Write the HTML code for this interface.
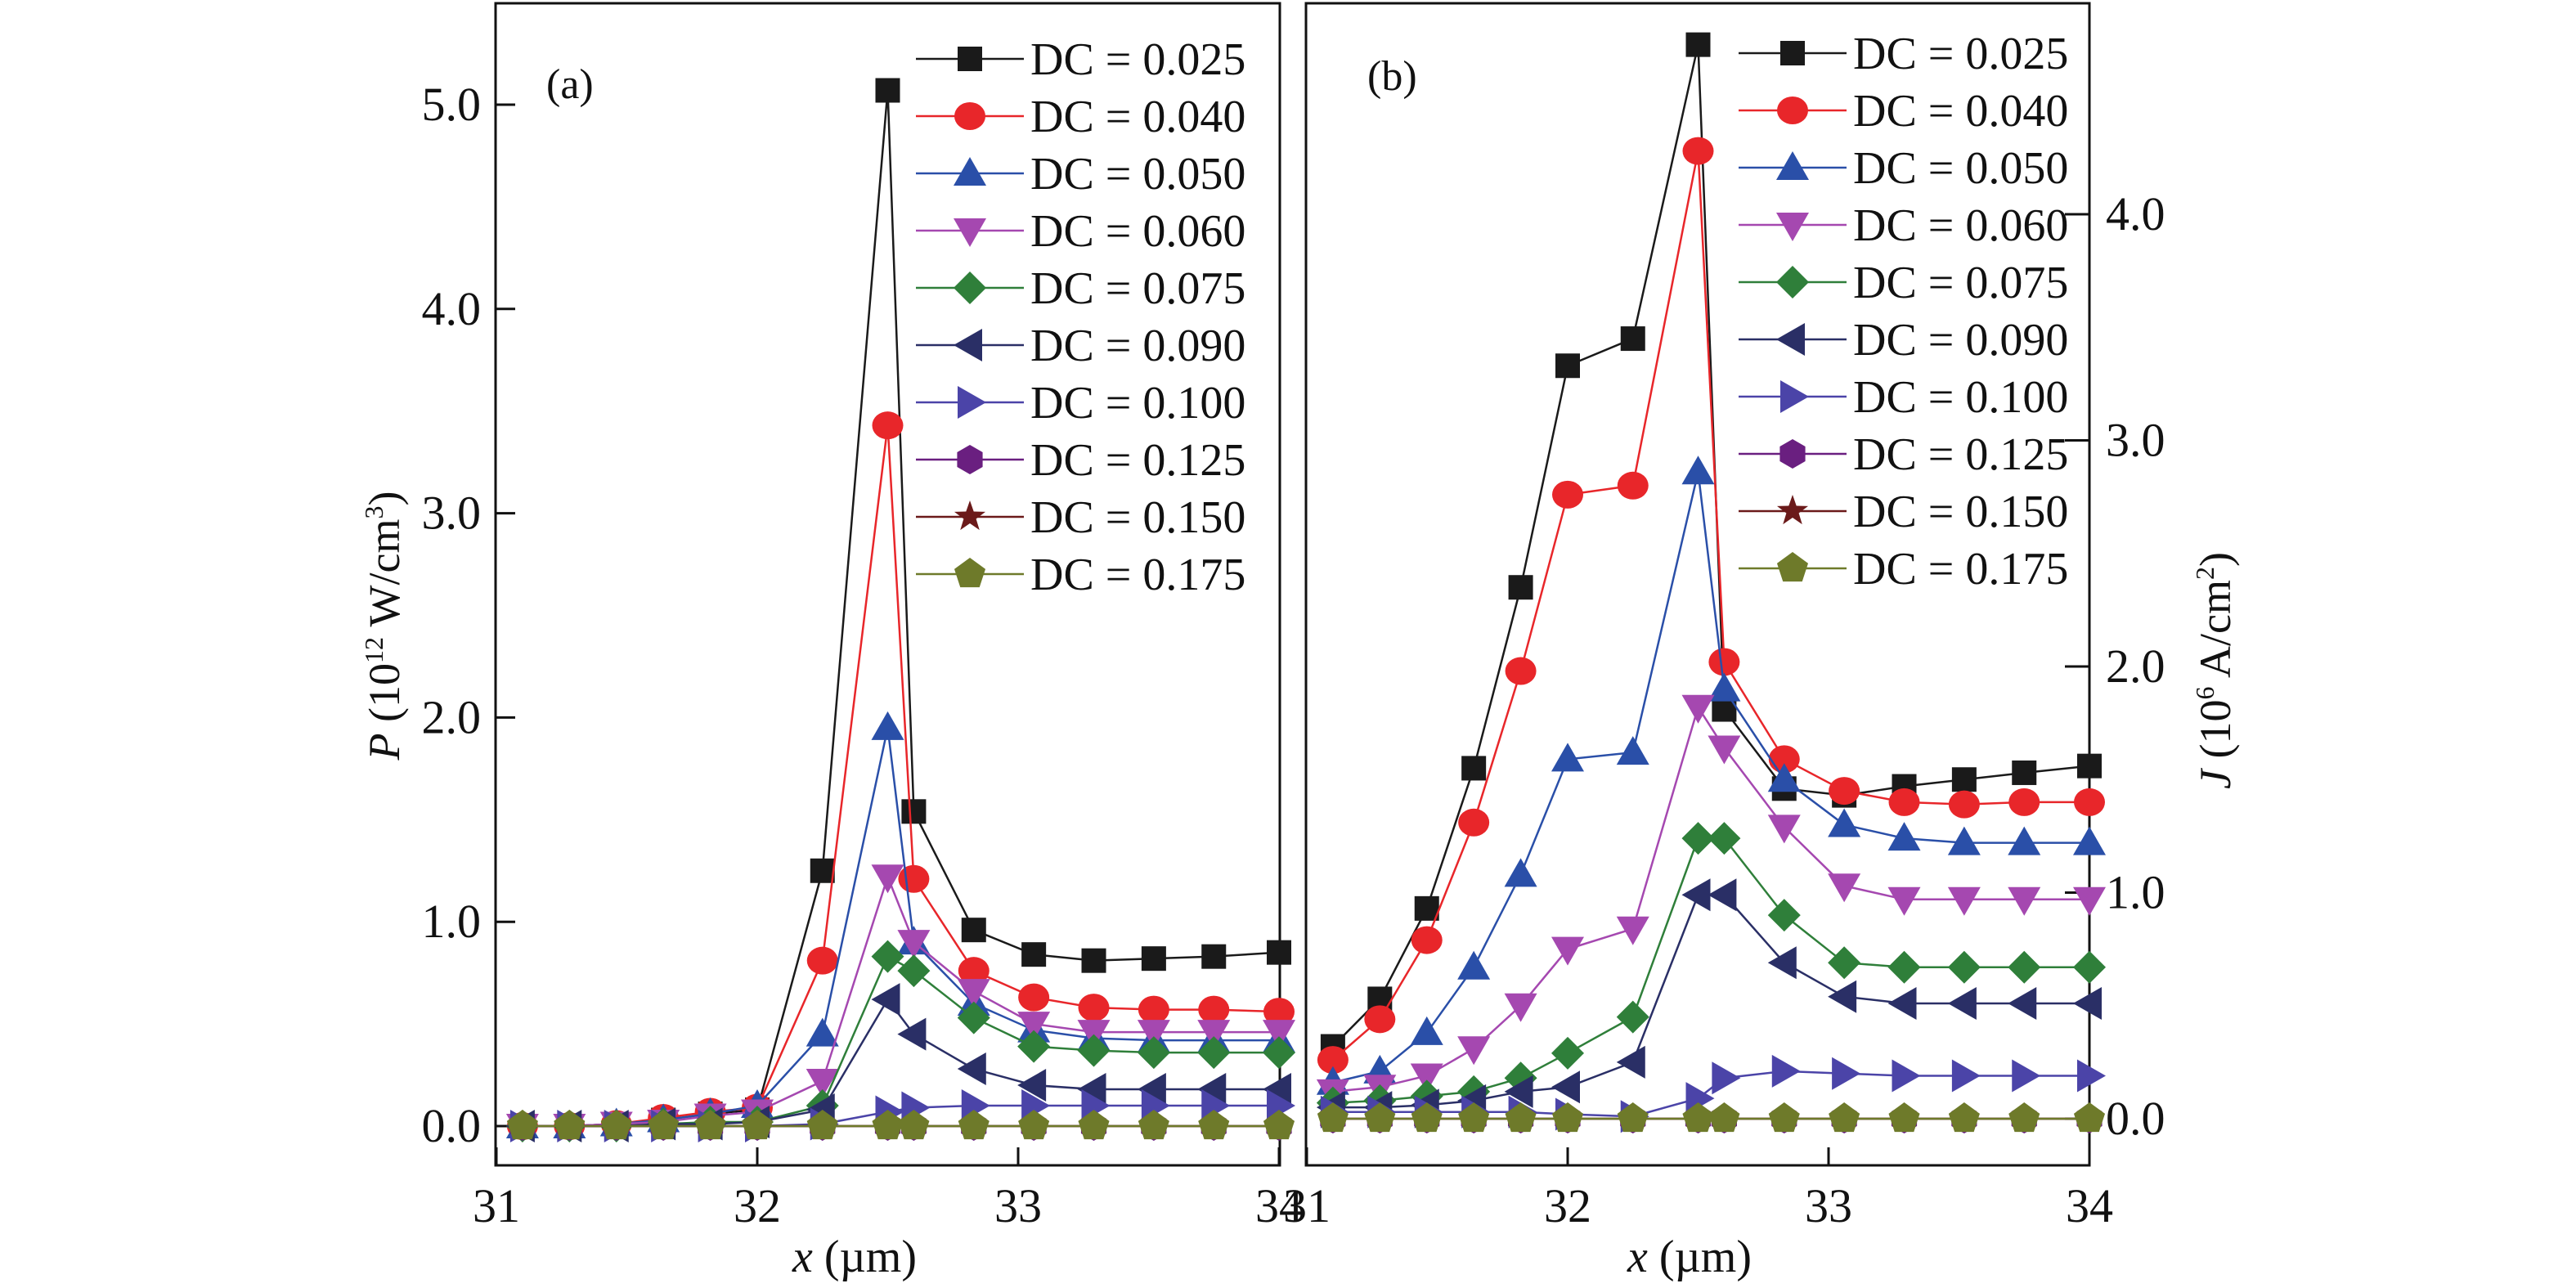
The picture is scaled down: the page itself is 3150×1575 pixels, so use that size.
<!DOCTYPE html>
<html><head><meta charset="utf-8"><style>
html,body{margin:0;padding:0;background:#fff;}
svg{display:block;font-family:"Liberation Serif",serif;}
</style></head><body>
<svg id="chart" width="3150" height="1575" viewBox="0 0 3150 1575"></svg>
<script>
const xs = [31.1,31.28,31.46,31.64,31.82,32.0,32.25,32.5,32.6,32.83,33.06,33.29,33.52,33.75,34.0];
const dcLabels = ["0.025","0.040","0.050","0.060","0.075","0.090","0.100","0.125","0.150","0.175"];
const aValues = [
 [0,0,0.01,0.03,0.06,0.08,1.25,5.07,1.54,0.96,0.84,0.81,0.82,0.83,0.85],
 [0,0,0.01,0.04,0.07,0.09,0.81,3.43,1.21,0.76,0.63,0.58,0.57,0.57,0.56],
 [0,0,0.01,0.03,0.06,0.10,0.45,1.95,0.90,0.60,0.47,0.43,0.42,0.42,0.42],
 [0,0,0.01,0.02,0.05,0.07,0.22,1.22,0.90,0.66,0.50,0.46,0.46,0.46,0.46],
 [0,0,0,0.01,0.02,0.02,0.10,0.83,0.76,0.53,0.39,0.37,0.36,0.36,0.36],
 [0,0,0,0.01,0.01,0.02,0.08,0.62,0.45,0.28,0.20,0.18,0.18,0.18,0.18],
 [0,0,0,0,0,0,0.01,0.07,0.09,0.10,0.10,0.10,0.10,0.10,0.10],
 [0,0,0,0,0,0,0,0,0,0,0,0,0,0,0],
 [0,0,0,0,0,0,0,0,0,0,0,0,0,0,0],
 [0,0,0,0,0,0,0,0,0,0,0,0,0,0,0]
];
const bValues = [
 [0.32,0.53,0.93,1.55,2.35,3.33,3.45,4.75,1.81,1.46,1.43,1.47,1.50,1.53,1.56],
 [0.26,0.44,0.79,1.31,1.98,2.76,2.80,4.28,2.02,1.59,1.45,1.40,1.39,1.40,1.40],
 [0.16,0.21,0.38,0.67,1.08,1.59,1.62,2.86,1.90,1.50,1.30,1.24,1.22,1.22,1.22],
 [0.12,0.14,0.19,0.31,0.50,0.75,0.84,1.82,1.64,1.29,1.03,0.97,0.97,0.97,0.97],
 [0.07,0.08,0.10,0.12,0.18,0.29,0.45,1.24,1.24,0.90,0.69,0.67,0.67,0.67,0.67],
 [0.05,0.05,0.06,0.08,0.12,0.14,0.25,0.99,0.99,0.69,0.54,0.51,0.51,0.51,0.51],
 [0.03,0.03,0.03,0.03,0.03,0.02,0.01,0.09,0.18,0.21,0.20,0.19,0.19,0.19,0.19],
 [0,0,0,0,0,0,0,0,0,0,0,0,0,0,0],
 [0,0,0,0,0,0,0,0,0,0,0,0,0,0,0],
 [0,0,0,0,0,0,0,0,0,0,0,0,0,0,0]
];
const xTicks = [31,32,33,34];
const aYTicks = [0,1,2,3,4,5];
const bYTicks = [0,1,2,3,4];
const colors = ["#1a1a1a","#e8262a","#2a4fa8","#a548b0","#2f7f3a","#2a2f66","#4b44a8","#6a1f80","#6b1a1a","#6e7a2a"];
const shapes = ["square","circle","up","down","diamond","left","right","hex","star","pent"];

const NS="http://www.w3.org/2000/svg";
const svg=document.getElementById('chart');
function mk(tag,attrs,parent,text){const e=document.createElementNS(NS,tag);for(const k in attrs)e.setAttribute(k,attrs[k]);if(text!==undefined)e.textContent=text;(parent||svg).appendChild(e);return e;}
function poly(pts){return pts.map(p=>p.join(',')).join(' ');}
function marker(g,shape,cx,cy,c){
  let e;const r=18;
  if(shape==='square') e=mk('rect',{x:cx-15,y:cy-15,width:30,height:30,fill:c},g);
  else if(shape==='circle') e=mk('ellipse',{cx:cx,cy:cy,rx:19,ry:17,fill:c},g);
  else if(shape==='up') e=mk('polygon',{points:poly([[cx,cy-20],[cx-20,cy+15],[cx+20,cy+15]]),fill:c},g);
  else if(shape==='down') e=mk('polygon',{points:poly([[cx,cy+20],[cx-20,cy-15],[cx+20,cy-15]]),fill:c},g);
  else if(shape==='diamond') e=mk('polygon',{points:poly([[cx,cy-20],[cx+20,cy],[cx,cy+20],[cx-20,cy]]),fill:c},g);
  else if(shape==='left') e=mk('polygon',{points:poly([[cx-20,cy],[cx+15,cy-20],[cx+15,cy+20]]),fill:c},g);
  else if(shape==='right') e=mk('polygon',{points:poly([[cx+20,cy],[cx-15,cy-20],[cx-15,cy+20]]),fill:c},g);
  else if(shape==='hex'){const p=[];for(let i=0;i<6;i++){const a=Math.PI/6+i*Math.PI/3;p.push([cx+r*Math.cos(a),cy+r*Math.sin(a)]);}e=mk('polygon',{points:poly(p),fill:c},g);}
  else if(shape==='star'){const p=[];for(let i=0;i<10;i++){const a=-Math.PI/2+i*Math.PI/5;const rr=i%2?8:20;p.push([cx+rr*Math.cos(a),cy+rr*Math.sin(a)]);}e=mk('polygon',{points:poly(p),fill:c},g);}
  else {const p=[];for(let i=0;i<5;i++){const a=-Math.PI/2+i*2*Math.PI/5;p.push([cx+20*Math.cos(a),cy+20*Math.sin(a)]);}e=mk('polygon',{points:poly(p),fill:c},g);}
  return e;
}
function panel(opt){
  const g=mk('g',{});
  
  
  const X=v=>opt.x0+(v-31)*opt.xs;
  const Y=v=>opt.y0-v*opt.ys;
  const fr=mk('rect',{x:opt.left,y:4,width:opt.right-opt.left,height:1421,fill:'none',stroke:'#111','stroke-width':3},g);
  
  
  xTicks.forEach(t=>{
    mk('line',{x1:X(t),x2:X(t),y1:1425,y2:1403,stroke:'#111','stroke-width':3},g);
    const tl=mk('text',{x:X(t),y:1494,'font-size':58,'text-anchor':'middle',fill:'#111'},g,String(t));
    
    
  });
  opt.yTicks.forEach(t=>{
    if(opt.side==='left'){
      mk('line',{x1:opt.left,x2:opt.left+24,y1:Y(t),y2:Y(t),stroke:'#111','stroke-width':3},g);
      const tl=mk('text',{x:opt.left-18,y:Y(t)+19,'font-size':58,'text-anchor':'end',fill:'#111'},g,t.toFixed(1));
      
      
    } else {
      mk('line',{x1:opt.right,x2:opt.right-30,y1:Y(t),y2:Y(t),stroke:'#111','stroke-width':3},g);
      const tl=mk('text',{x:opt.right+20,y:Y(t)+19,'font-size':58,'text-anchor':'start',fill:'#111'},g,t.toFixed(1));
      
      
    }
  });
  opt.values.forEach((vals,si)=>{
    const sg=mk('g',{},g);
    
    
    mk('polyline',{points:poly(xs.map((x,i)=>[X(x),Y(vals[i])])),fill:'none',stroke:colors[si],'stroke-width':2.5},sg);
    xs.forEach((x,i)=>{
      const m=marker(sg,shapes[si],X(x),Y(vals[i]),colors[si]);
      
      
    });
  });
  dcLabels.forEach((l,i)=>{
    const lg=mk('g',{},g);
    
    
    const y=opt.legY+i*70;
    mk('line',{x1:opt.legX,x2:opt.legX+132,y1:y,y2:y,stroke:colors[i],'stroke-width':2.5},lg);
    marker(lg,shapes[i],opt.legX+66,y,colors[i]);
    mk('text',{x:opt.legX+140,y:y+19,'font-size':56,fill:'#111'},lg,'DC = '+l);
  });
  const pl=mk('text',{x:opt.lblX,y:opt.lblY,'font-size':52,fill:'#111'},g,opt.lbl);
  
  
  const xt=mk('text',{x:opt.xTitleX,y:1555,'font-size':56,'text-anchor':'middle',fill:'#111'},g);
  
  
  mk('tspan',{'font-style':'italic'},xt,'x');
  mk('tspan',{},xt,' (µm)');
  return g;
}
panel({name:'panel-a',left:606,right:1565,x0:607,xs:319,y0:1377,ys:249.8,yTicks:aYTicks,side:'left',values:aValues,legX:1120,legY:72,lbl:'(a)',lblX:668,lblY:120,xTitleX:1045});
panel({name:'panel-b',left:1597,right:2555,x0:1598,xs:319,y0:1368,ys:276.5,yTicks:bYTicks,side:'right',values:bValues,legX:2126,legY:65,lbl:'(b)',lblX:1672,lblY:110,xTitleX:2066});
const ya=mk('text',{transform:'translate(488,765) rotate(-90)','font-size':54,'text-anchor':'middle',fill:'#111'});


mk('tspan',{'font-style':'italic'},ya,'P');
mk('tspan',{},ya,' (10');
mk('tspan',{'font-size':32,dy:-20},ya,'12');
mk('tspan',{dy:20},ya,' W/cm');
mk('tspan',{'font-size':32,dy:-20},ya,'3');
mk('tspan',{dy:20},ya,')');
const yb=mk('text',{transform:'translate(2727,820) rotate(-90)','font-size':54,'text-anchor':'middle',fill:'#111'});


mk('tspan',{'font-style':'italic'},yb,'J');
mk('tspan',{},yb,' (10');
mk('tspan',{'font-size':32,dy:-20},yb,'6');
mk('tspan',{dy:20},yb,' A/cm');
mk('tspan',{'font-size':32,dy:-20},yb,'2');
mk('tspan',{dy:20},yb,')');
</script>
</body></html>
